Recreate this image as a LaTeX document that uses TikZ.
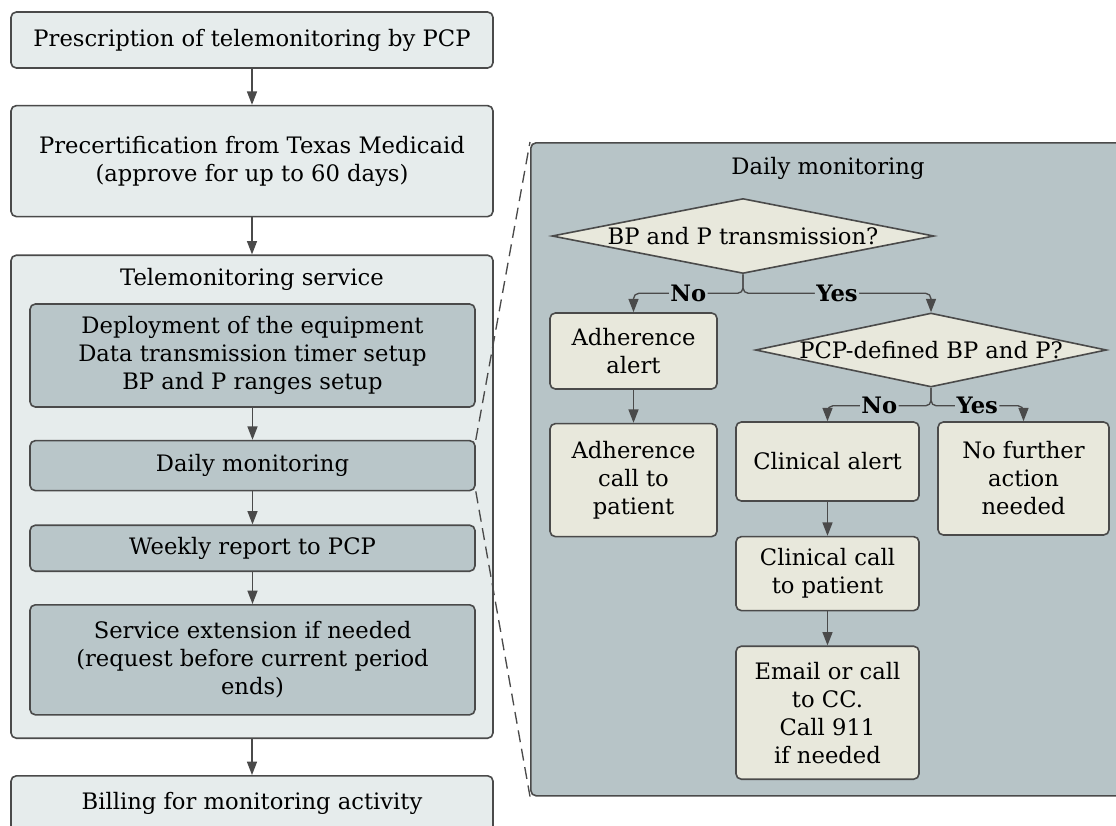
\documentclass[tikz,border=0pt]{standalone}
\usepackage{fontspec}
\setmainfont{DejaVu Serif}
\usetikzlibrary{shapes.geometric, arrows.meta, positioning}
\definecolor{outerfill}{HTML}{E6ECEC}
\definecolor{innerfill}{HTML}{B9C6C9}
\definecolor{panelfill}{HTML}{B7C4C7}
\definecolor{stepfill}{HTML}{E8E8DC}
\definecolor{linegray}{HTML}{4A4A4A}
\newcommand{\diagfont}{\fontsize{17}{21}\selectfont}
\tikzstyle{block} = [rectangle, 
			draw = linegray, 
			line width = 1.2pt, 
			rounded corners = 4pt, 
			fill = outerfill, 
			text centered, 
			align = center, 
			minimum width = 361.5pt]
\tikzstyle{subblock} = [block, 
			fill = innerfill, 
			minimum width = 333.75pt]
\tikzstyle{task} = [block, 
			fill = stepfill, 
			minimum width = 0pt]
\tikzstyle{decision} = [diamond, 
			draw = linegray, 
			line width = 1.2pt, 
			fill = stepfill, 
			inner sep = 0pt]
\tikzstyle{flow} = [draw = linegray, line width = 1pt, -{Triangle[length=10pt, width=7.5pt]}]
\tikzstyle{branch} = [flow, rounded corners = 4pt]
\tikzstyle{answer} = [fill = panelfill, font = \diagfont\bfseries, inner sep = 1pt]
\tikzstyle{zoomline} = [draw = linegray, line width = 1pt, dash pattern = on 9pt off 5pt]

\begin{document}
\begin{tikzpicture}[x = 0.75pt, y = -0.75pt, font = \diagfont]
	\useasboundingbox (0,0) rectangle (1116,825);
	\node [block, minimum height = 42pt] (presc) at (252,40) {Prescription of telemonitoring by PCP};
	\node [block, minimum height = 83.25pt, below = 27pt of presc] (precert) {Precertification from Texas Medicaid\\(approve for up to 60 days)};
	\node [block, minimum height = 362.25pt, below = 27.75pt of precert] (service) {};
	\node [below = 10pt of service.north, inner sep = 0pt] (servicetitle) {Telemonitoring service};
	\node [subblock, minimum height = 77.25pt] (deploy) at (252.5,355.5) {Deployment of the equipment\\Data transmission timer setup\\BP and P ranges setup};
	\node [subblock, minimum height = 37.5pt, below = 24pt of deploy] (daily) {Daily monitoring};
	\node [subblock, minimum height = 34.5pt, below = 24.75pt of daily] (weekly) {Weekly report to PCP};
	\node [subblock, minimum height = 82.5pt, below = 24pt of weekly] (extension) {Service extension if needed\\(request before current period\\ends)};
	\node [block, minimum height = 42pt, below = 27pt of service] (billing) {Billing for monitoring activity};
	\draw [flow] (presc) -- (precert);
	\draw [flow] (precert) -- (service);
	\draw [flow] (deploy) -- (daily);
	\draw [flow] (daily) -- (weekly);
	\draw [flow] (weekly) -- (extension);
	\draw [flow] (service) -- (billing);

	\node [block, fill = panelfill, anchor = north west, minimum width = 450pt, minimum height = 489.75pt] (panel) at (530,142) {};
	\node (paneltitle) at (828,168) {Daily monitoring};
	\node [decision, minimum width = 286.5pt, minimum height = 56.25pt] (transmission) at (743,236) {\makebox[0pt]{BP and P transmission?}};
	\node [task, minimum width = 125.25pt, minimum height = 57pt] (adhalert) at (633.5,351) {Adherence\\alert};
	\node [decision, minimum width = 263.25pt, minimum height = 55.5pt] (ranges) at (931,350) {\makebox[0pt]{PCP-defined BP and P?}};
	\node [task, minimum width = 125.25pt, minimum height = 84.75pt, below = 24.75pt of adhalert] (adhcall) {Adherence\\call to\\patient};
	\node [task, minimum width = 137.25pt, minimum height = 59.25pt] (clinalert) at (827.5,461.5) {Clinical alert};
	\node [task, minimum width = 128.25pt, minimum height = 84.75pt] (noaction) at (1023.5,478.5) {No further\\action\\needed};
	\node [task, minimum width = 137.25pt, minimum height = 55.5pt, below = 25.5pt of clinalert] (clincall) {Clinical call\\to patient};
	\node [task, minimum width = 137.25pt, minimum height = 99.75pt, below = 25.5pt of clincall] (email) {Email or call\\to CC.\\Call 911\\if needed};
	\draw [branch] (transmission.south) -- ++(0,19) -| node [answer, pos = 0.25] {No} (adhalert.north);
	\draw [branch] (transmission.south) -- ++(0,19) -| node [answer, pos = 0.25] {Yes} (ranges.north);
	\draw [branch] (ranges.south) -- ++(0,18) -| node [answer, pos = 0.25] {No} (clinalert.north);
	\draw [branch] (ranges.south) -- ++(0,18) -| node [answer, pos = 0.25] {Yes} (noaction.north);
	\draw [flow] (adhalert) -- (adhcall);
	\draw [flow] (clinalert) -- (clincall);
	\draw [flow] (clincall) -- (email);

	\draw [zoomline] (daily.north east) -- (panel.north west);
	\draw [zoomline] (daily.south east) -- (panel.south west);
\end{tikzpicture}
\end{document}
